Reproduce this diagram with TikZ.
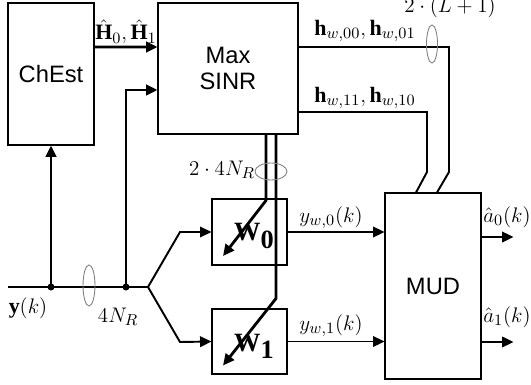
\documentclass[tikz,border=0pt]{standalone}
\usepackage{fontspec}
\setmainfont{Liberation Serif}
\setsansfont{Liberation Sans}
\usetikzlibrary{calc,arrows.meta}

\tikzset{
  blk/.style={draw, line width=0.6pt, inner sep=0pt, align=center,
    font=\sffamily\fontsize{13.5}{14.5}\selectfont},
  lbl/.style={inner sep=0pt, font=\fontsize{12.5}{14}\selectfont},
  wlbl/.style={inner sep=0pt, font=\fontsize{15}{16}\selectfont},
  bus/.style={gray, line width=0.5pt},
  sig/.style={line width=1.1pt},
  fat/.style={line width=1.6pt},
}

\begin{document}
\begin{tikzpicture}[x=0.02cm, y=-0.02cm, >={Triangle[length=6.5pt,width=6pt]}]
  \useasboundingbox (0,0) rectangle (531,385);

  % Blocks
  \node[blk, minimum width=1.72cm, minimum height=2.84cm] (chest) at (51,74) {ChEst};
  \node[blk, minimum width=2.8cm, minimum height=2.62cm] (sinr) at (228,68.5) {Max\\SINR};
  \node[blk, minimum width=1.5cm, minimum height=1.32cm] (w0) at (249.5,232) {};
  \node[blk, minimum width=1.5cm, minimum height=1.3cm] (w1) at (249.5,341.5) {};
  \node[blk, minimum width=1.92cm, minimum height=3.72cm] (mud) at (433,286) {MUD};

  % Input y(k) and its taps
  \coordinate (yin)   at (8,287);
  \coordinate (j1)    at (51,287);
  \coordinate (j2)    at (126,287);
  \coordinate (split) at (148,287);
  \draw[sig] (yin) -- (split);
  \draw[fat, ->] (j1) -- (chest.south);
  \draw[fat, ->] (j2) |- ([yshift=-0.43cm]sinr.west);
  \fill (j1) circle (2pt);
  \fill (j2) circle (2pt);

  % Channel estimates
  \draw[fat, ->] ([yshift=0.54cm]chest.east) -- ([yshift=0.43cm]sinr.west);

  % Split to the two filters
  \draw[sig, ->] (split) -- (180,232) -- (w0.west);
  \draw[sig, ->] (split) -- (180,342) -- (w1.west);

  % Filter outputs and decisions
  \draw[sig, ->] (w0.east) -- (w0.east -| mud.west);
  \draw[sig, ->] (w1.east) -- (w1.east -| mud.west);
  \draw[sig, ->] ([yshift=0.98cm]mud.east) -- ++(32,0);
  \draw[sig, ->] ([yshift=-1.12cm]mud.east) -- ++(32,0);

  % Effective channels to MUD
  \draw[sig] ([yshift=0.43cm]sinr.east) -| (449,172) -- ([xshift=0.08cm]mud.north);
  \draw[sig] ([yshift=-0.87cm]sinr.east) -| (427,172) -- ([xshift=-0.34cm]mud.north);

  % Filter labels
  \node[wlbl] (w0lbl) at (254,236) {$\mathbf{W}\lower4pt\hbox{$\mathbf{0}$}$};
  \node[wlbl] (w1lbl) at (254,346) {$\mathbf{W}\lower4pt\hbox{$\mathbf{1}$}$};

  % Filter weights from Max SINR
  \draw[fat, ->] ([xshift=0.76cm]sinr.south) -- ++(0,66) -- ([shift={(-26.5,24)}]w0.center);
  \draw[fat, ->] ([xshift=0.96cm]sinr.south) -- ++(0,164) -- ([shift={(-26.5,24)}]w1.center);

  % Bundle rings
  \draw[bus] (89,285.5) ellipse (0.12cm and 0.41cm);
  \draw[bus] (432,44) ellipse (0.11cm and 0.38cm);
  \draw[bus] (271,171.5) ellipse (0.32cm and 0.17cm);

  % Labels
  \node[lbl] (hhat) at (126,32) {$\hat{\mathbf{H}}_0,\hat{\mathbf{H}}_1$};
  \node[lbl] (h0) at (365,31) {$\mathbf{h}_{w,00},\mathbf{h}_{w,01}$};
  \node[lbl] (h1) at (365,98) {$\mathbf{h}_{w,11},\mathbf{h}_{w,10}$};
  \node[lbl] (nl) at (450,7) {$2\cdot(L+1)$};
  \node[lbl] (nw) at (222,170) {$2\cdot 4N_R$};
  \node[lbl] (yk) at (28,308) {$\mathbf{y}(k)$};
  \node[lbl] (nr) at (118,317) {$4N_R$};
  \node[lbl] (yw0) at (331,218) {$y_{w,0}(k)$};
  \node[lbl] (yw1) at (331,326) {$y_{w,1}(k)$};
  \node[lbl] (a0) at (507,217) {$\hat{a}_0(k)$};
  \node[lbl] (a1) at (507,317) {$\hat{a}_1(k)$};
\end{tikzpicture}
\end{document}
